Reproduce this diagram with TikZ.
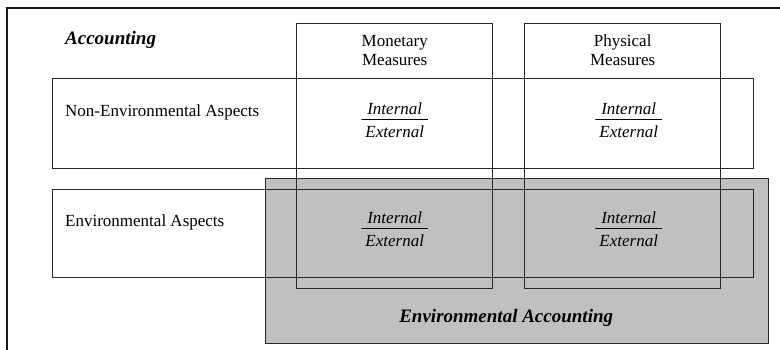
\documentclass[tikz,border=0pt]{standalone}
\usepackage{fontspec}
\setmainfont{Liberation Serif}
\usepackage{tikz}
\usetikzlibrary{positioning}
\definecolor{shade}{HTML}{C0C0C0}
\tikzstyle{frame} = [line width=2.2pt, draw=black!90]
\tikzstyle{block} = [rectangle, draw=black!85, line width=1.4pt, anchor=north west, inner sep=0pt]
\tikzstyle{label} = [font=\fontsize{17}{19}\selectfont, align=center, inner sep=0pt]
\tikzstyle{title} = [font=\fontsize{19}{21}\selectfont\bfseries\itshape, inner sep=0pt]
\tikzstyle{ratio} = [font=\fontsize{17}{23}\selectfont\itshape, align=center, inner xsep=4pt, inner ysep=0pt,
  path picture={\draw[line width=1.2pt] (path picture bounding box.west) -- (path picture bounding box.east);}]

\begin{document}
\begin{tikzpicture}[x=1pt,y=1pt]
            \clip (0,0) rectangle (780,-350);
            \fill[white] (0,0) rectangle (780,-350);
            % outer frame, runs off the page on the right and bottom
            \draw [frame] (7,-8) rectangle (820,-400);
            % shaded area first so the other boxes show through it
            \node (envacc) [block, fill=shade, minimum width=503, minimum height=165] at (265,-178) {};
            \node (monetary) [block, minimum width=196, minimum height=265] at (296,-23) {};
            \node (physical) [block, minimum width=196, minimum height=265] at (524,-23) {};
            \node (nonenv) [block, minimum width=701, minimum height=90] at (52,-78) {};
            \node (env) [block, minimum width=701, minimum height=88] at (52,-189) {};
            % headings
            \node (acc) [title, anchor=west] at (65,-40) {Accounting};
            \node (monhead) [label, below=12 of monetary.north] {Monetary\\Measures};
            \node (phyhead) [label, below=12 of physical.north] {Physical\\Measures};
            \node (nonenvtext) [label, anchor=west] at (65,-112) {Non-Environmental Aspects};
            \node (envtext) [label, anchor=west] at (65,-222) {Environmental Aspects};
            % internal / external splits
            \node (mon1) [ratio, yshift=4] at (monetary |- nonenv) {Internal\\External};
            \node (phy1) [ratio, xshift=6, yshift=4] at (physical |- nonenv) {Internal\\External};
            \node (mon2) [ratio, yshift=5] at (monetary |- env) {Internal\\External};
            \node (phy2) [ratio, xshift=6, yshift=5] at (physical |- env) {Internal\\External};
            \node (envacctext) [title, anchor=south, xshift=-11, yshift=18] at (envacc.south) {Environmental Accounting};
        \end{tikzpicture}
\end{document}
